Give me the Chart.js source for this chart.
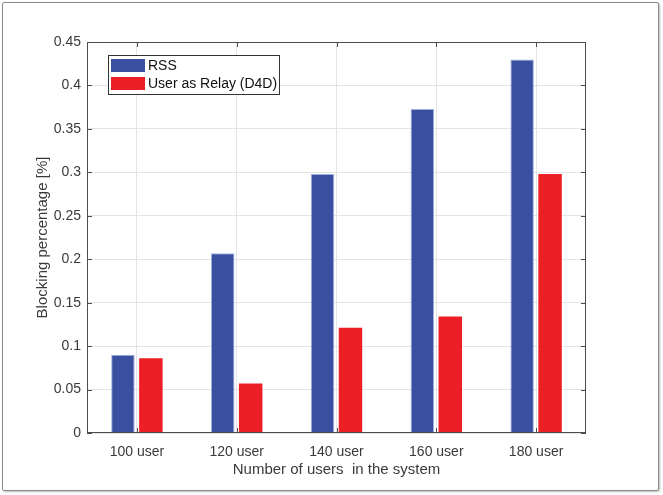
<!DOCTYPE html>
<html>
<head>
<meta charset="utf-8">
<script src="https://cdn.jsdelivr.net/npm/chart.js@4"></script>
<style>
  html, body { margin: 0; padding: 0; background: #fff; }
  #wrap { position: relative; width: 663px; height: 495px; }
  #frame { position: absolute; left: 2px; top: 2px; width: 655px; height: 487px;
           border: 1.5px solid #8a8a8a; border-radius: 2px; box-shadow: 1px 1px 2px #bbb; }
  canvas { position: absolute; left: 0; top: 0; }
</style>
</head>
<body>
<div id="wrap">
  <div id="frame"></div>
  <canvas id="myChart" width="663" height="495"></canvas>
</div>
<script>
// Blocking percentage per user count

const categories = ['100 user', '120 user', '140 user', '160 user', '180 user'];
const rssValues = [0.090, 0.207, 0.298, 0.373, 0.430];
const relayValues = [0.086, 0.057, 0.121, 0.134, 0.298];
const seriesNames = ['RSS', 'User as Relay (D4D)'];
const yTickLabels = ['0', '0.05', '0.1', '0.15', '0.2', '0.25', '0.3', '0.35', '0.4', '0.45'];

const axisColor = '#4d4d4d';
const textColor = '#3a3a3a';
const fam = 'Liberation Sans, Arial, sans-serif';
const tickFont = { family: fam, size: 14 };
const titleFont = { family: fam, size: 15 };

// MATLAB-ish box with inward ticks and a legend inside the axes
const boxPlugin = {
    id: 'box',
    afterDraw(chart) {
        const { ctx, chartArea: a, scales } = chart;
        ctx.save();
        ctx.strokeStyle = axisColor;
        ctx.lineWidth = 1;
        ctx.strokeRect(a.left + 0.5, a.top + 0.5, a.right - a.left - 1, a.bottom - a.top - 1);
        ctx.beginPath();
        scales.x.ticks.forEach((t, i) => {
            const x = Math.round(scales.x.getPixelForTick(i)) + 0.5;
            ctx.moveTo(x, a.bottom); ctx.lineTo(x, a.bottom - 5);
            ctx.moveTo(x, a.top); ctx.lineTo(x, a.top + 5);
        });
        scales.y.ticks.forEach((t, i) => {
            const y = Math.round(scales.y.getPixelForTick(i)) + 0.5;
            ctx.moveTo(a.left, y); ctx.lineTo(a.left + 5, y);
            ctx.moveTo(a.right, y); ctx.lineTo(a.right - 5, y);
        });
        ctx.stroke();

        // legend
        const lx = a.left + 21, ly = a.top + 13, lw = 171, lh = 39;
        ctx.fillStyle = '#fff';
        ctx.fillRect(lx, ly, lw, lh);
        ctx.strokeStyle = '#333';
        ctx.strokeRect(lx + 0.5, ly + 0.5, lw, lh);
        ctx.font = '14px ' + fam;
        ctx.textBaseline = 'middle';
        chart.data.datasets.forEach((ds, i) => {
            const rowY = ly + 4 + i * 18;
            ctx.fillStyle = ds.backgroundColor;
            ctx.fillRect(lx + 3, rowY, 34, 13);
            ctx.fillStyle = '#111';
            ctx.fillText(ds.label, lx + 40, rowY + 7);
        });
        ctx.restore();
    }
};

const ctx = document.getElementById('myChart').getContext('2d');
const myChart = new Chart(ctx, {
    type: 'bar',
    data: {
        labels: categories,
        datasets: [{
            label: seriesNames[0],
            data: rssValues,
            backgroundColor: '#3a4f9f',
            borderColor: '#9fb0dd',
            borderWidth: { left: 1, right: 1, top: 1, bottom: 0 },
            categoryPercentage: 0.56,
            barPercentage: 0.84
        }, {
            label: seriesNames[1],
            data: relayValues,
            backgroundColor: '#ec1f26',
            borderWidth: 0,
            categoryPercentage: 0.56,
            barPercentage: 0.84
        }]
    },
    options: {
        responsive: false,
        animation: false,
        layout: { padding: { top: 42, right: 77, bottom: 0, left: 0 } },
        scales: {
            x: {
                afterFit: (s) => { s.height = 62; },
                grid: { color: '#e5e5e5', drawTicks: false, offset: false },
                border: { display: false },
                ticks: { color: textColor, font: tickFont, padding: 11 },
                title: { display: true, text: 'Number of users  in the system', color: textColor, font: titleFont, padding: { top: 4, bottom: 16 } }
            },
            y: {
                min: 0,
                max: 0.45,
                afterFit: (s) => { s.width = 87; },
                grid: { color: '#e5e5e5', drawTicks: false },
                border: { display: false },
                ticks: {
                    stepSize: 0.05,
                    color: textColor,
                    font: tickFont,
                    padding: 6,
                    callback: (v, i) => yTickLabels[i]
                },
                title: { display: true, text: 'Blocking percentage [%]', color: textColor, font: titleFont, padding: { top: 34, bottom: 2 } }
            }
        },
        plugins: {
            legend: { display: false },
            tooltip: { enabled: false }
        }
    },
    plugins: [boxPlugin]
});
</script>
</body>
</html>
